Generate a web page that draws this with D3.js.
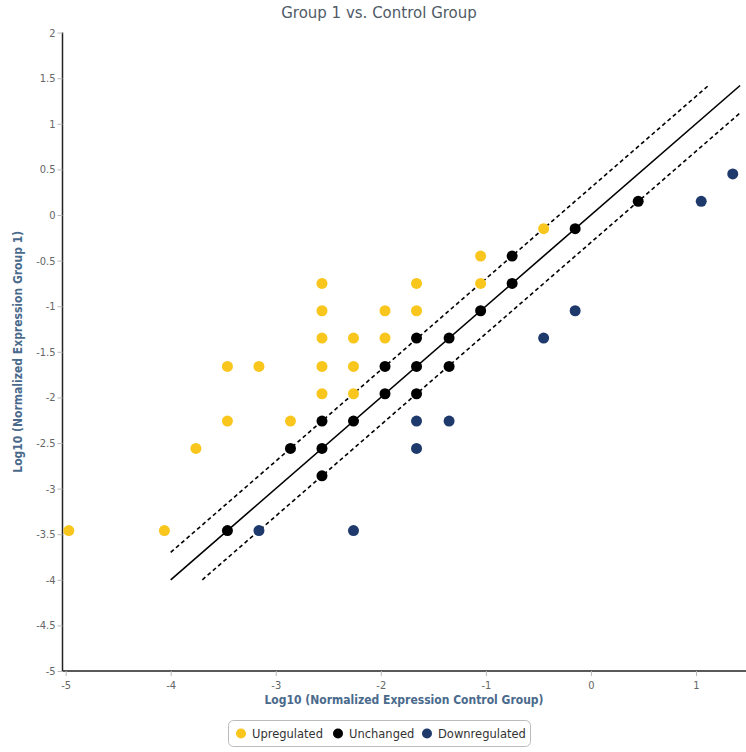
<!DOCTYPE html>
<html><head><meta charset="utf-8">
<script src="https://cdn.jsdelivr.net/npm/d3@7/dist/d3.min.js"></script>
<style>body{margin:0;background:#fff}svg{display:block}</style>
</head><body>
<script>
// ---- data ----
const upregulated = [
  [-4.97,-3.46],[-4.06,-3.46],[-3.76,-2.56],[-3.46,-1.66],[-3.46,-2.26],[-3.16,-1.66],
  [-2.86,-2.26],[-2.56,-0.75],[-2.56,-1.05],[-2.56,-1.35],[-2.56,-1.66],[-2.56,-1.96],
  [-2.26,-1.35],[-2.26,-1.66],[-2.26,-1.96],[-1.96,-1.05],[-1.96,-1.35],[-1.66,-0.75],
  [-1.66,-1.05],[-1.05,-0.45],[-1.05,-0.75],[-0.45,-0.15]
];
const unchanged = [
  [-3.46,-3.46],[-2.86,-2.56],[-2.56,-2.26],[-2.56,-2.56],[-2.56,-2.86],[-2.26,-2.26],
  [-1.96,-1.66],[-1.96,-1.96],[-1.66,-1.35],[-1.66,-1.66],[-1.66,-1.96],[-1.35,-1.35],
  [-1.35,-1.66],[-1.05,-1.05],[-0.75,-0.45],[-0.75,-0.75],[-0.15,-0.15],[0.45,0.15]
];
const downregulated = [
  [-3.16,-3.46],[-2.26,-3.46],[-1.66,-2.26],[-1.35,-2.26],[-1.66,-2.56],
  [-0.45,-1.35],[-0.15,-1.05],[1.05,0.15],[1.35,0.45]
];
const seriesNames = ["Upregulated","Unchanged","Downregulated"];
const xTicks = [-5,-4,-3,-2,-1,0,1];
const yTicks = [2,1.5,1,0.5,0,-0.5,-1,-1.5,-2,-2.5,-3,-3.5,-4,-4.5,-5];
const lineRange = [-4, 1.42];   // extent of the reference lines
const foldOffset = 0.301;       // log10(2) boundary

const W = 746, H = 752;
const colors = {"Upregulated":"#F9C61D","Unchanged":"#000000","Downregulated":"#1E3A6D"};
const svg = d3.select("body").append("svg").attr("width",W).attr("height",H)
  .style("font-family","'DejaVu Sans', sans-serif");

const x = d3.scaleLinear().domain([-5.03,1.5]).range([62.5,748.5]);
const y = d3.scaleLinear().domain([-5,2]).range([671,32.6]);

// title
svg.append("text").attr("x",379).attr("y",18).attr("text-anchor","middle")
  .attr("fill","#4f5b66").style("font-size","15px").text("Group 1 vs. Control Group");

// axes
const xAxis = svg.append("g").attr("transform",`translate(0,${y(-5)})`)
  .call(d3.axisBottom(x).tickValues(xTicks).tickSize(5).tickFormat(d=>String(d)));
const yAxis = svg.append("g").attr("transform",`translate(${x(-5.03)},0)`)
  .call(d3.axisLeft(y).tickValues(yTicks).tickSize(5).tickFormat(d=>String(d)));
[xAxis,yAxis].forEach(g=>{
  g.select(".domain").attr("stroke","#222").attr("stroke-width",1.5);
  g.selectAll(".tick line").attr("stroke","#bbb");
  g.selectAll(".tick text").attr("fill","#666").style("font-size","11px")
   .style("font-family","'DejaVu Sans Condensed','DejaVu Sans',sans-serif");
});
xAxis.select(".domain").attr("d",`M${x(-5.03)},0H${W}`);
yAxis.select(".domain").attr("d",`M0,${y(2)}V${y(-5)}`);
xAxis.selectAll(".tick text").attr("dy","0.9em");
yAxis.selectAll(".tick text").attr("x",-7);

// axis titles
svg.append("text").attr("x",404).attr("y",704).attr("text-anchor","middle")
  .attr("fill","#4a6a8c").style("font-size","12px").style("font-weight","bold")
  .style("font-family","'DejaVu Sans Condensed','DejaVu Sans',sans-serif")
  .text("Log10 (Normalized Expression Control Group)");
svg.append("text").attr("transform",`translate(22,${y(-1.5)}) rotate(-90)`).attr("text-anchor","middle")
  .attr("fill","#4a6a8c").style("font-size","12px").style("font-weight","bold")
  .style("font-family","'DejaVu Sans Condensed','DejaVu Sans',sans-serif")
  .text("Log10 (Normalized Expression Group 1)");

// reference lines
const plot = svg.append("g");
const line = d3.line().x(d=>x(d[0])).y(d=>y(d[1]));
const refLines = [
  {pts:[[lineRange[0],lineRange[0]],[lineRange[1],lineRange[1]]], dash:null},
  {pts:[[lineRange[0],lineRange[0]+foldOffset],[lineRange[1]-foldOffset,lineRange[1]]], dash:"4,3"},
  {pts:[[lineRange[0]+foldOffset,lineRange[0]],[lineRange[1],lineRange[1]-foldOffset]], dash:"4,3"}
];
refLines.forEach(l=>{
  plot.append("path").attr("d",line(l.pts)).attr("fill","none").attr("stroke","#000")
    .attr("stroke-width",1.6).attr("stroke-dasharray",l.dash);
});

// points
const allSeries = [upregulated, unchanged, downregulated];
allSeries.forEach((data,i)=>{
  plot.append("g").selectAll("circle").data(data).join("circle")
    .attr("cx",d=>x(d[0])).attr("cy",d=>y(d[1])).attr("r",5.5)
    .attr("fill",colors[seriesNames[i]]);
});

// legend
const lg = svg.append("g");
lg.append("rect").attr("x",228.5).attr("y",720.5).attr("width",302).attr("height",26).attr("rx",5)
  .attr("fill","#fff").attr("stroke","#bbb");
const legendX = [241, 338, 427];
seriesNames.forEach((n,i)=>{
  lg.append("circle").attr("cx",legendX[i]).attr("cy",733.5).attr("r",5).attr("fill",colors[n]);
  lg.append("text").attr("x",legendX[i]+11).attr("y",737.5).attr("fill","#333")
    .style("font-size","11.5px").text(n);
});
</script>
</body></html>
